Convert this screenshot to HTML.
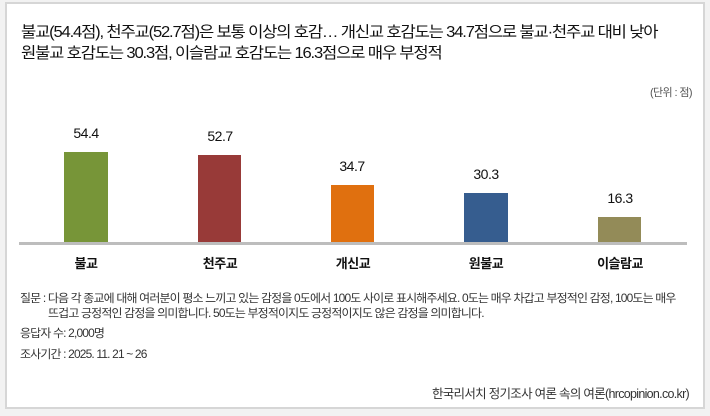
<!DOCTYPE html>
<html><head><meta charset="utf-8"><style>
body{margin:0;width:710px;height:416px;background:#f2f2f2;overflow:hidden;font-family:"Liberation Sans","Noto Sans CJK KR",sans-serif;color:#111}
.box{position:absolute;left:5px;top:2px;width:696px;height:403px;border:2px solid #d6d6d6;background:#fff}
.t{position:absolute;white-space:nowrap}
.title{left:21px;font-size:15.5px;letter-spacing:-1.1px;transform:scaleX(1.07);transform-origin:left}
.bar{position:absolute}
.v{position:absolute;width:80px;text-align:center;font-size:14px;letter-spacing:-0.5px}
.c{position:absolute;width:100px;text-align:center;font-size:13px;font-weight:bold;letter-spacing:-0.5px;top:253px}
.n{font-size:11.5px;letter-spacing:-0.8px;color:#333;left:20px;transform:scaleX(1.04);transform-origin:left}
</style></head><body>
<div class="box"></div>
<div class="t title" style="top:20px">불교(54.4점), 천주교(52.7점)은 보통 이상의 호감… 개신교 호감도는 34.7점으로 불교·천주교 대비 낮아</div>
<div class="t title" style="top:41px">원불교 호감도는 30.3점, 이슬람교 호감도는 16.3점으로 매우 부정적</div>
<div class="t" style="right:18px;top:84px;font-size:11px;color:#555;letter-spacing:-0.6px">(단위 : 점)</div>
<div class="bar" style="left:19px;top:242px;width:668px;height:3px;background:#bdbdbd"></div>
<div class="bar" style="left:64px;top:152px;width:44px;height:90px;background:#779538"></div>
<div class="bar" style="left:198px;top:155px;width:43px;height:87px;background:#983a38"></div>
<div class="bar" style="left:331px;top:185px;width:43px;height:57px;background:#e0700f"></div>
<div class="bar" style="left:464px;top:193px;width:44px;height:49px;background:#365d8f"></div>
<div class="bar" style="left:598px;top:217px;width:43px;height:25px;background:#938b58"></div>
<div class="v" style="left:46px;top:125px">54.4</div>
<div class="v" style="left:180px;top:128px">52.7</div>
<div class="v" style="left:312px;top:158px">34.7</div>
<div class="v" style="left:446px;top:166px">30.3</div>
<div class="v" style="left:580px;top:190px">16.3</div>
<div class="c" style="left:36px">불교</div>
<div class="c" style="left:170px">천주교</div>
<div class="c" style="left:303px">개신교</div>
<div class="c" style="left:436px">원불교</div>
<div class="c" style="left:570px">이슬람교</div>
<div class="t n" style="top:290px">질문 : 다음 각 종교에 대해 여러분이 평소 느끼고 있는 감정을 0도에서 100도 사이로 표시해주세요. 0도는 매우 차갑고 부정적인 감정, 100도는 매우</div>
<div class="t n" style="top:305px;left:48px">뜨겁고 긍정적인 감정을 의미합니다. 50도는 부정적이지도 긍정적이지도 않은 감정을 의미합니다.</div>
<div class="t n" style="top:325px">응답자 수: 2,000명</div>
<div class="t n" style="top:346px">조사기간 : 2025. 11. 21 ~ 26</div>
<div class="t" style="right:21px;top:383px;font-size:12.5px;letter-spacing:-0.7px;color:#333">한국리서치 정기조사 여론 속의 여론(hrcopinion.co.kr)</div>
</body></html>
